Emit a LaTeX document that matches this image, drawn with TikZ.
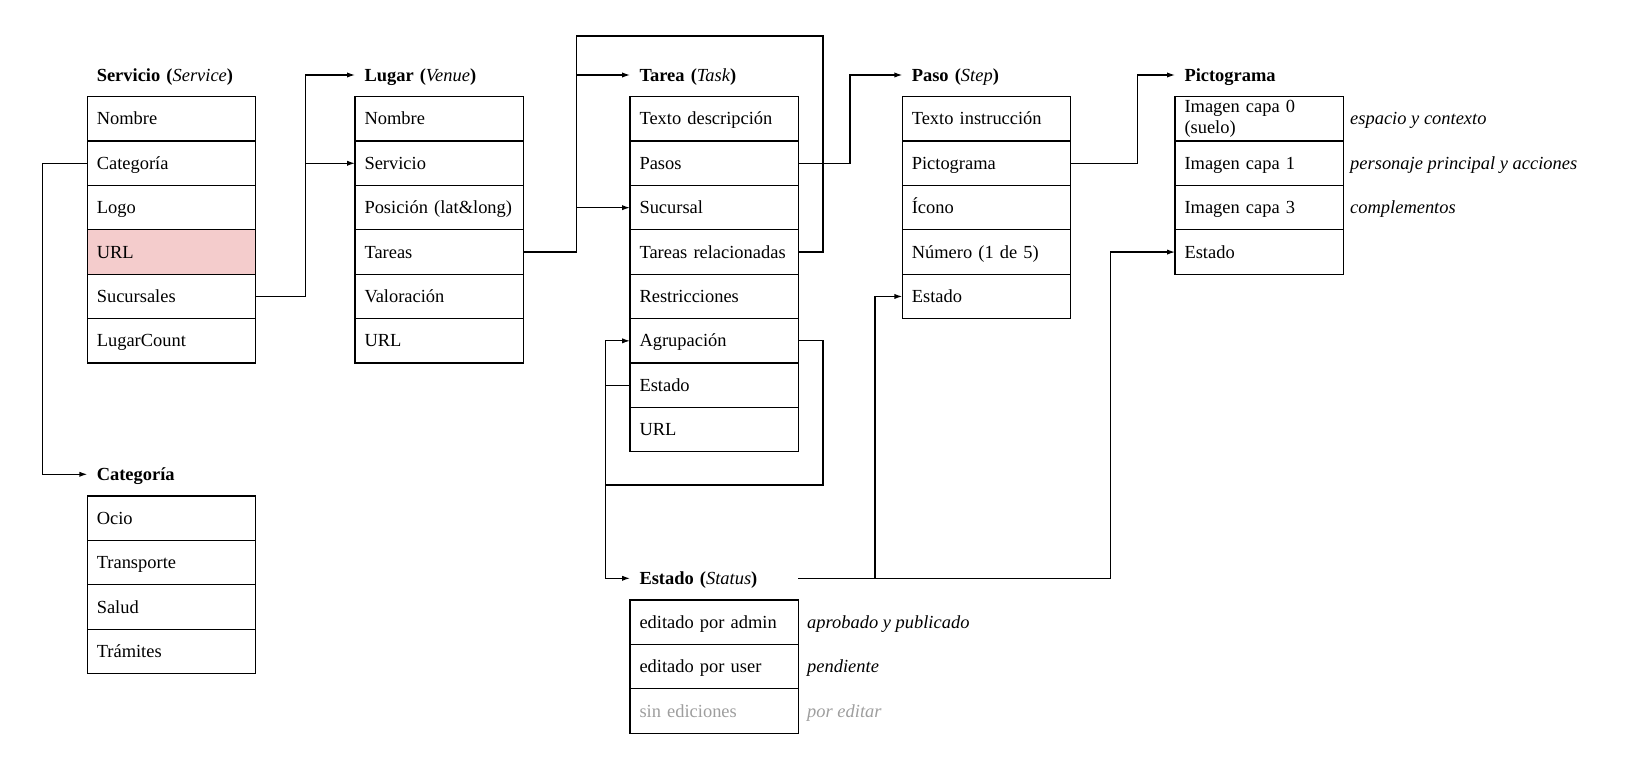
\documentclass[tikz,border=0pt]{standalone}
\usepackage{fontspec}
\setmainfont{Liberation Serif}
\usetikzlibrary{arrows.meta,positioning}
\definecolor{urlpink}{HTML}{F4CCCC}

\begin{document}
\begin{tikzpicture}[x=0.02cm, y=-0.02cm, node distance=0pt,
    field/.style = {draw=black, line width=0.7pt, minimum width=3.368cm, minimum height=0.888cm, text width=2.988cm, text height=7.9pt, text depth=1pt, inner xsep=0.19cm, inner ysep=0pt, outer sep=0pt, align=left, font=\fontsize{10.5}{11.5}\selectfont},
    hdr/.style = {field, draw=none, minimum height=0.868cm, font=\fontsize{10.5}{11.5}\selectfont\bfseries},
    note/.style = {inner sep=0pt, text height=7.9pt, text depth=1pt, font=\fontsize{10.5}{11.5}\selectfont\itshape},
    link/.style = {line width=0.7pt, -{Latex[length=4.5pt,width=3pt]}}]
    \useasboundingbox (0,0) rectangle (1633,766);

    % Servicio
    \node [field, anchor=north west] (serv1) at (87.3,96.7) {Nombre};
    \node [field, below=of serv1] (serv2) {Categoría};
    \node [field, below=of serv2] (serv3) {Logo};
    \node [field, below=of serv3, fill=urlpink] (serv4) {URL};
    \node [field, below=of serv4] (serv5) {Sucursales};
    \node [field, below=of serv5] (serv6) {LugarCount};
    \node [hdr, above=of serv1] (servhdr) {Servicio ({\mdseries\itshape Service})};

    % Categoria
    \node [field, anchor=north west] (cat1) at (87.3,496) {Ocio};
    \node [field, below=of cat1] (cat2) {Transporte};
    \node [field, below=of cat2] (cat3) {Salud};
    \node [field, below=of cat3] (cat4) {Trámites};
    \node [hdr, above=of cat1] (cathdr) {Categoría};

    % Lugar
    \node [field, anchor=north west] (lug1) at (355,96.7) {Nombre};
    \node [field, below=of lug1] (lug2) {Servicio};
    \node [field, below=of lug2] (lug3) {Posición (lat\&long)};
    \node [field, below=of lug3] (lug4) {Tareas};
    \node [field, below=of lug4] (lug5) {Valoración};
    \node [field, below=of lug5] (lug6) {URL};
    \node [hdr, above=of lug1] (lughdr) {Lugar ({\mdseries\itshape Venue})};

    % Tarea
    \node [field, anchor=north west] (tar1) at (630,96.7) {Texto descripción};
    \node [field, below=of tar1] (tar2) {Pasos};
    \node [field, below=of tar2] (tar3) {Sucursal};
    \node [field, below=of tar3] (tar4) {Tareas relacionadas};
    \node [field, below=of tar4] (tar5) {Restricciones};
    \node [field, below=of tar5] (tar6) {Agrupación};
    \node [field, below=of tar6] (tar7) {Estado};
    \node [field, below=of tar7] (tar8) {URL};
    \node [hdr, above=of tar1] (tarhdr) {Tarea ({\mdseries\itshape Task})};

    % Paso
    \node [field, anchor=north west] (pas1) at (902.3,96.7) {Texto instrucción};
    \node [field, below=of pas1] (pas2) {Pictograma};
    \node [field, below=of pas2] (pas3) {Ícono};
    \node [field, below=of pas3] (pas4) {Número (1 de 5)};
    \node [field, below=of pas4] (pas5) {Estado};
    \node [hdr, above=of pas1] (pashdr) {Paso ({\mdseries\itshape Step})};

    % Pictograma
    \node [field, anchor=north west, text height={}, text depth={}] (pic1) at (1175,96.7) {Imagen capa 0\\(suelo)};
    \node [field, below=of pic1] (pic2) {Imagen capa 1};
    \node [field, below=of pic2] (pic3) {Imagen capa 3};
    \node [field, below=of pic3] (pic4) {Estado};
    \node [hdr, above=of pic1] (pichdr) {Pictograma};
    \node [note, right=0.13cm of pic1] (picn1) {espacio y contexto};
    \node [note, right=0.13cm of pic2] (picn2) {personaje principal y acciones};
    \node [note, right=0.13cm of pic3] (picn3) {complementos};

    % Estado
    \node [field, anchor=north west] (est1) at (630,600) {editado por admin};
    \node [field, below=of est1] (est2) {editado por user};
    \node [field, below=of est2, text=black!38] (est3) {sin ediciones};
    \node [hdr, above=of est1] (esthdr) {Estado ({\mdseries\itshape Status})};
    \node [note, right=0.17cm of est1] (estn1) {aprobado y publicado};
    \node [note, right=0.17cm of est2] (estn2) {pendiente};
    \node [note, right=0.17cm of est3, text=black!38] (estn3) {por editar};

    % links
    \coordinate (agr) at (605.7,485);
    \draw [link] (serv2.west) -- ++(-45,0) |- (cathdr.west);
    \draw [link] (serv5.east) -- ++(50,0) coordinate (sj) |- (lughdr.west);
    \draw [link] (sj |- lug2.west) -- (lug2.west);
    \draw [link] (lug4.east) -- ++(53.4,0) coordinate (tj) |- (tarhdr.west);
    \draw [link] (tj |- tar3.west) -- (tar3.west);
    \draw [line width=0.7pt] (tar4.east) -- ++(24.7,0) |- (tj |- 0,36) -- (tj |- tarhdr.west);
    \draw [link] (tar2.east) -- ++(51.7,0) |- (pashdr.west);
    \draw [link] (pas2.east) -- ++(66.6,0) |- (pichdr.west);
    \draw [link] (tar6.east) -- ++(24.7,0) |- (agr) |- (tar6.west);
    \draw [line width=0.7pt] (tar7.west) -- (agr |- tar7.west);
    \draw [link] (agr) |- (esthdr.west);
    \draw [link] (esthdr.east) -- ++(76.7,0) coordinate (ej) -- ++(235.7,0) |- (pic4.west);
    \draw [link] (ej) |- (pas5.west);
\end{tikzpicture}
\end{document}
